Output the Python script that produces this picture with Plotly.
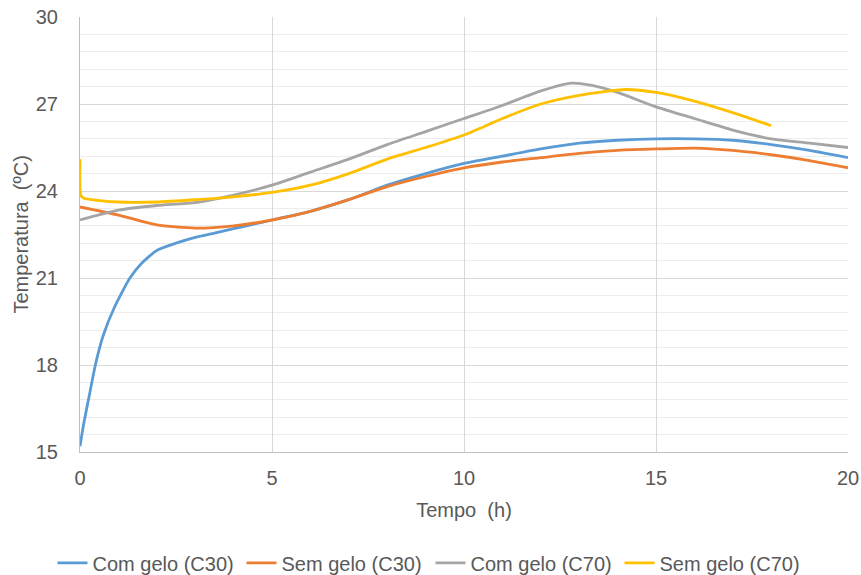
import plotly.graph_objects as go

# Com gelo (C30)
t_c30_com = [0, 0.1, 0.25, 0.4, 0.6, 0.9, 1.3, 1.6, 2, 2.5, 3, 3.5, 4, 4.5, 5, 6, 7, 8, 9, 10, 11, 12, 13, 14, 15, 16, 17, 18, 19, 20]
T_c30_com = [15.2, 16.0, 17.0, 18.0, 19.0, 20.0, 21.0, 21.5, 21.95, 22.2, 22.4, 22.55, 22.7, 22.85, 23.0, 23.3, 23.7, 24.2, 24.6, 24.95, 25.2, 25.45, 25.65, 25.75, 25.8, 25.8, 25.75, 25.6, 25.4, 25.15]

# Sem gelo (C30)
t_c30_sem = [0, 1, 2, 3, 4, 5, 6, 7, 8, 9, 10, 11, 12, 13, 14, 15, 16, 17, 18, 19, 20]
T_c30_sem = [23.45, 23.17, 22.83, 22.72, 22.8, 23.0, 23.3, 23.7, 24.15, 24.5, 24.8, 25.0, 25.15, 25.3, 25.4, 25.45, 25.48, 25.4, 25.25, 25.05, 24.8]

# Com gelo (C70)
t_c70_com = [0, 1, 2, 3, 4, 5, 6, 7, 8, 9, 10, 11, 12, 12.8, 13.3, 14, 15, 16, 17, 18, 19, 20]
T_c70_com = [23.0, 23.34, 23.5, 23.6, 23.86, 24.2, 24.65, 25.1, 25.6, 26.05, 26.5, 26.95, 27.45, 27.72, 27.65, 27.4, 26.9, 26.5, 26.1, 25.8, 25.65, 25.5]

# Sem gelo (C70)
t_c70_sem = [0, 0.02, 0.1, 1, 2, 3, 4, 5, 6, 7, 8, 9, 10, 11, 12, 13, 14.2, 15, 16, 17, 18]
T_c70_sem = [25.1, 23.85, 23.75, 23.62, 23.62, 23.7, 23.8, 23.95, 24.2, 24.6, 25.1, 25.5, 25.93, 26.5, 27.0, 27.3, 27.5, 27.4, 27.1, 26.7, 26.25]

series = [
    ("Com gelo (C30)", t_c30_com, T_c30_com, "#5b9bd5"),
    ("Sem gelo (C30)", t_c30_sem, T_c30_sem, "#ed7d31"),
    ("Com gelo (C70)", t_c70_com, T_c70_com, "#a5a5a5"),
    ("Sem gelo (C70)", t_c70_sem, T_c70_sem, "#ffc000"),
]

fig = go.Figure()
for name, x, y, c in series:
    fig.add_trace(go.Scatter(x=x, y=y, name=name, mode="lines",
                             line=dict(color=c, width=2.8, shape="spline", smoothing=0.6)))

font = "Liberation Sans, Arial, sans-serif"
txt = "#595959"
fig.update_layout(
    width=861, height=575,
    margin=dict(l=80, r=13, t=17, b=123, autoexpand=False),
    paper_bgcolor="white", plot_bgcolor="white",
    font=dict(family=font, size=20, color=txt),
    showlegend=True,
    legend=dict(orientation="h", xref="container", x=0.5, xanchor="center",
                y=-0.255, yanchor="middle",
                font=dict(size=20, color=txt), itemwidth=30, tracegroupgap=0,
                entrywidth=144, entrywidthmode="pixels"),
    xaxis=dict(range=[0, 20], dtick=5, tick0=0, showgrid=True, gridcolor="#d9d9d9", gridwidth=1,
               zeroline=False, showline=True, linecolor="#bfbfbf", linewidth=1,
               ticks="", ticklabelstandoff=8, tickfont=dict(size=20, color=txt),
               automargin=False,
               title=dict(text="Tempo\u00a0 (h)", font=dict(size=20, color=txt), standoff=14)),
    yaxis=dict(range=[15, 30], dtick=3, tick0=15, showgrid=True, gridcolor="#d9d9d9", gridwidth=1,
               zeroline=False, showline=True, linecolor="#bfbfbf", linewidth=1,
               ticks="", ticklabelstandoff=17, tickfont=dict(size=20, color=txt),
               automargin=False,
               minor=dict(dtick=0.6, tick0=15, showgrid=True, gridcolor="#ececec", gridwidth=1)),
    annotations=[dict(text="Temperatura\u00a0 (ºC)", xref="paper", yref="paper",
                      x=-0.078, y=0.5, xanchor="center", yanchor="middle",
                      textangle=-90, showarrow=False,
                      font=dict(size=20, color=txt))],
)
fig.write_html("out.html", config={"displayModeBar": False},
               post_script="document.body.style.margin='0';document.documentElement.style.overflow='hidden';")
